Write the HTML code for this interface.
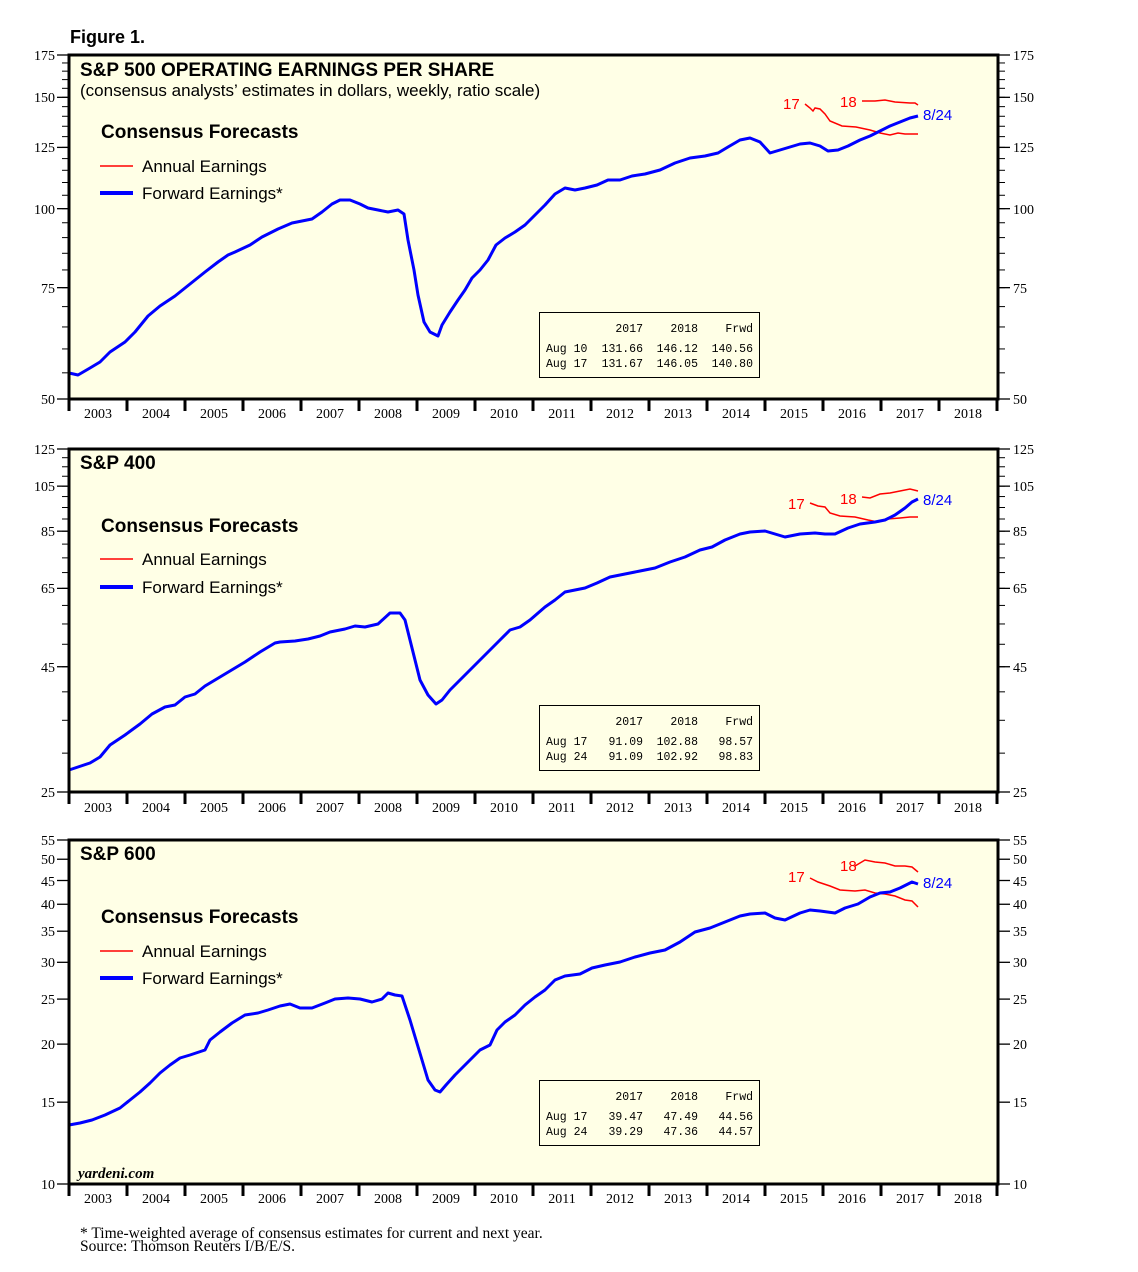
<!DOCTYPE html>
<html><head><meta charset="utf-8"><style>
body{margin:0;background:#fff;}
svg{display:block;}
.ser{font-family:"Liberation Serif",serif;font-size:14px;fill:#000;}
.sans{font-family:"Liberation Sans",sans-serif;fill:#000;}
.mono{font-family:"Liberation Mono",monospace;font-size:11.5px;fill:#000;}
.mono text{text-anchor:end;}
.mono text.l{text-anchor:start;}
</style></head><body>
<svg id="s" width="1138" height="1272" viewBox="0 0 1138 1272" xmlns="http://www.w3.org/2000/svg">
<rect width="1138" height="1272" fill="#fff"/>
<text x="70" y="43" class="sans" font-size="18" font-weight="bold">Figure 1.</text>
<g id="panels"></g>

<text x="80" y="76" class="sans" font-size="19" font-weight="bold">S&amp;P 500 OPERATING EARNINGS PER SHARE</text>
<text x="80" y="96" class="sans" font-size="17">(consensus analysts’ estimates in dollars, weekly, ratio scale)</text>
<text x="101" y="138" class="sans" font-size="19" font-weight="bold">Consensus Forecasts</text>
<text x="142" y="172" class="sans" font-size="17">Annual Earnings</text>
<text x="142" y="199" class="sans" font-size="17">Forward Earnings*</text>
<g class="ser" text-anchor="end"><text x="55" y="60">175</text><text x="55" y="102">150</text><text x="55" y="152">125</text><text x="55" y="214">100</text><text x="55" y="293">75</text><text x="55" y="404">50</text></g>
<g class="ser"><text x="1013" y="60">175</text><text x="1013" y="102">150</text><text x="1013" y="152">125</text><text x="1013" y="214">100</text><text x="1013" y="293">75</text><text x="1013" y="404">50</text></g>
<text x="783" y="109" class="sans" font-size="15" style="fill:#f00">17</text>
<text x="840" y="107" class="sans" font-size="15" style="fill:#f00">18</text>
<text x="923" y="120" class="sans" font-size="15" style="fill:#00f">8/24</text>
<rect x="539.5" y="312.5" width="220" height="65" fill="none" stroke="#000"/>
<g class="mono"><text x="643" y="332">2017</text><text x="698" y="332">2018</text><text x="753" y="332">Frwd</text>
<text class="l" x="546" y="352">Aug 10</text><text x="643" y="352">131.66</text><text x="698" y="352">146.12</text><text x="753" y="352">140.56</text>
<text class="l" x="546" y="367">Aug 17</text><text x="643" y="367">131.67</text><text x="698" y="367">146.05</text><text x="753" y="367">140.80</text></g>

<text x="80" y="469" class="sans" font-size="19" font-weight="bold">S&amp;P 400</text>
<text x="101" y="532" class="sans" font-size="19" font-weight="bold">Consensus Forecasts</text>
<text x="142" y="565" class="sans" font-size="17">Annual Earnings</text>
<text x="142" y="593" class="sans" font-size="17">Forward Earnings*</text>
<g class="ser" text-anchor="end"><text x="55" y="454">125</text><text x="55" y="491">105</text><text x="55" y="536">85</text><text x="55" y="593">65</text><text x="55" y="672">45</text><text x="55" y="797">25</text></g>
<g class="ser"><text x="1013" y="454">125</text><text x="1013" y="491">105</text><text x="1013" y="536">85</text><text x="1013" y="593">65</text><text x="1013" y="672">45</text><text x="1013" y="797">25</text></g>
<text x="788" y="509" class="sans" font-size="15" style="fill:#f00">17</text>
<text x="840" y="504" class="sans" font-size="15" style="fill:#f00">18</text>
<text x="923" y="505" class="sans" font-size="15" style="fill:#00f">8/24</text>
<rect x="539.5" y="705.5" width="220" height="65" fill="none" stroke="#000"/>
<g class="mono"><text x="643" y="725">2017</text><text x="698" y="725">2018</text><text x="753" y="725">Frwd</text>
<text class="l" x="546" y="745">Aug 17</text><text x="643" y="745">91.09</text><text x="698" y="745">102.88</text><text x="753" y="745">98.57</text>
<text class="l" x="546" y="760">Aug 24</text><text x="643" y="760">91.09</text><text x="698" y="760">102.92</text><text x="753" y="760">98.83</text></g>

<text x="80" y="860" class="sans" font-size="19" font-weight="bold">S&amp;P 600</text>
<text x="101" y="923" class="sans" font-size="19" font-weight="bold">Consensus Forecasts</text>
<text x="142" y="957" class="sans" font-size="17">Annual Earnings</text>
<text x="142" y="984" class="sans" font-size="17">Forward Earnings*</text>
<g class="ser" text-anchor="end"><text x="55" y="845">55</text><text x="55" y="864">50</text><text x="55" y="886">45</text><text x="55" y="909">40</text><text x="55" y="936">35</text><text x="55" y="967">30</text><text x="55" y="1004">25</text><text x="55" y="1049">20</text><text x="55" y="1107">15</text><text x="55" y="1189">10</text></g>
<g class="ser"><text x="1013" y="845">55</text><text x="1013" y="864">50</text><text x="1013" y="886">45</text><text x="1013" y="909">40</text><text x="1013" y="936">35</text><text x="1013" y="967">30</text><text x="1013" y="1004">25</text><text x="1013" y="1049">20</text><text x="1013" y="1107">15</text><text x="1013" y="1189">10</text></g>
<text x="788" y="882" class="sans" font-size="15" style="fill:#f00">17</text>
<text x="840" y="871" class="sans" font-size="15" style="fill:#f00">18</text>
<text x="923" y="888" class="sans" font-size="15" style="fill:#00f">8/24</text>
<rect x="539.5" y="1080.5" width="220" height="65" fill="none" stroke="#000"/>
<g class="mono"><text x="643" y="1100">2017</text><text x="698" y="1100">2018</text><text x="753" y="1100">Frwd</text>
<text class="l" x="546" y="1120">Aug 17</text><text x="643" y="1120">39.47</text><text x="698" y="1120">47.49</text><text x="753" y="1120">44.56</text>
<text class="l" x="546" y="1135">Aug 24</text><text x="643" y="1135">39.29</text><text x="698" y="1135">47.36</text><text x="753" y="1135">44.57</text></g>
<text x="78" y="1178" font-family="Liberation Serif,serif" font-style="italic" font-weight="bold" font-size="15">yardeni.com</text>

<text x="80" y="1238" class="ser" style="font-size:15.5px">* Time-weighted average of consensus estimates for current and next year.</text>
<text x="80" y="1251" class="ser" style="font-size:15.5px">Source: Thomson Reuters I/B/E/S.</text>
<g class="ser" text-anchor="middle">
<text x="98" y="418">2003</text><text x="156" y="418">2004</text><text x="214" y="418">2005</text><text x="272" y="418">2006</text><text x="330" y="418">2007</text><text x="388" y="418">2008</text><text x="446" y="418">2009</text><text x="504" y="418">2010</text><text x="562" y="418">2011</text><text x="620" y="418">2012</text><text x="678" y="418">2013</text><text x="736" y="418">2014</text><text x="794" y="418">2015</text><text x="852" y="418">2016</text><text x="910" y="418">2017</text><text x="968" y="418">2018</text>
<text x="98" y="812">2003</text><text x="156" y="812">2004</text><text x="214" y="812">2005</text><text x="272" y="812">2006</text><text x="330" y="812">2007</text><text x="388" y="812">2008</text><text x="446" y="812">2009</text><text x="504" y="812">2010</text><text x="562" y="812">2011</text><text x="620" y="812">2012</text><text x="678" y="812">2013</text><text x="736" y="812">2014</text><text x="794" y="812">2015</text><text x="852" y="812">2016</text><text x="910" y="812">2017</text><text x="968" y="812">2018</text>
<text x="98" y="1203">2003</text><text x="156" y="1203">2004</text><text x="214" y="1203">2005</text><text x="272" y="1203">2006</text><text x="330" y="1203">2007</text><text x="388" y="1203">2008</text><text x="446" y="1203">2009</text><text x="504" y="1203">2010</text><text x="562" y="1203">2011</text><text x="620" y="1203">2012</text><text x="678" y="1203">2013</text><text x="736" y="1203">2014</text><text x="794" y="1203">2015</text><text x="852" y="1203">2016</text><text x="910" y="1203">2017</text><text x="968" y="1203">2018</text>
</g>
</svg>
<script>
var NS="http://www.w3.org/2000/svg",g=document.getElementById("panels");
function el(t,a){var e=document.createElementNS(NS,t);for(var k in a)e.setAttribute(k,a[k]);g.appendChild(e);return e;}
function pts(a){var s="";for(var i=0;i<a.length;i+=2)s+=(i?"L":"M")+a[i]+","+a[i+1];return s;}
var P=[
 {top:55,bot:399,lo:50,hi:175,step:5,maj:[50,75,100,125,150,175],ly:[166,193],
  blue:[69,373,78,375,90,368,100,362,110,352,125,342,135,332,148,316,160,306,175,296,190,284,205,272,218,262,228,255,235,252,250,245,262,237,278,229,292,223,302,221,312,219,322,212,332,204,340,200,350,200,360,204,368,208,378,210,388,212,398,210,404,214,408,240,414,270,418,295,424,322,430,332,438,336,442,325,450,312,458,300,465,290,472,278,480,270,488,260,496,245,505,238,515,232,525,225,535,215,545,205,555,194,565,188,575,190,585,188,597,185,608,180,620,180,632,176,645,174,660,170,675,163,690,158,705,156,718,153,728,147,740,140,750,138,760,142,770,153,780,150,790,147,800,144,810,143,820,146,828,151,838,150,848,146,860,140,870,136,880,131,890,126,900,122,910,118,918,116],
  r17:[805,104,810,108,813,111,815,108,820,109,825,114,830,121,842,126,856,127,870,130,880,133,890,135,898,133,905,134,918,134],
  r18:[862,101,875,101,885,100,890,101,895,102,910,103,915,103,918,105]},
 {top:449,bot:792,lo:25,hi:125,step:5,maj:[25,45,65,85,105,125],ly:[559,587],
  blue:[69,770,78,767,90,763,100,757,110,745,125,735,140,724,152,714,165,707,175,705,185,697,195,694,205,686,215,680,230,671,245,662,260,652,275,643,280,642,295,641,308,639,320,636,330,632,345,629,355,626,365,627,378,624,390,613,400,613,405,620,410,640,415,660,420,680,428,695,436,704,442,700,450,690,460,680,470,670,480,660,490,650,500,640,510,630,520,627,530,620,545,607,555,600,565,592,575,590,585,588,597,583,610,577,625,574,640,571,655,568,670,562,685,557,700,550,712,547,725,540,740,534,750,532,765,531,775,534,785,537,800,534,815,533,825,534,835,534,848,528,860,524,875,522,885,520,895,515,905,508,912,502,918,499],
  r17:[810,503,818,506,825,507,830,513,840,516,855,517,868,520,878,522,888,519,900,518,910,517,918,517],
  r18:[862,497,870,498,880,494,890,493,900,491,910,489,918,491]},
 {top:840,bot:1184,lo:10,hi:55,step:0,maj:[10,15,20,25,30,35,40,45,50,55],ly:[951,978],
  blue:[69,1125,80,1123,92,1120,105,1115,120,1108,130,1100,140,1092,150,1083,160,1073,170,1065,180,1058,190,1055,205,1050,210,1040,220,1032,232,1023,245,1015,258,1013,268,1010,280,1006,290,1004,300,1008,312,1008,325,1003,335,999,348,998,360,999,372,1002,382,999,388,993,395,995,402,996,410,1020,416,1040,422,1060,428,1080,435,1090,440,1092,446,1085,455,1075,465,1065,470,1060,480,1050,490,1045,497,1030,505,1022,515,1015,525,1005,535,997,545,990,555,980,565,976,580,974,592,968,605,965,620,962,635,957,650,953,665,950,680,942,695,932,710,928,725,922,740,916,750,914,765,913,775,918,785,920,800,913,810,910,820,911,835,913,845,908,858,904,870,897,880,893,890,892,900,888,912,882,918,884],
  r17:[810,878,818,882,830,886,840,890,855,891,865,890,875,893,885,894,895,896,905,900,912,901,918,907],
  r18:[855,866,865,860,875,862,885,863,895,866,905,866,912,867,918,872]}
];
P.forEach(function(p){
 el("rect",{x:69,y:p.top,width:929,height:p.bot-p.top,fill:"#ffffe6"});
 var L=Math.log(p.hi/p.lo),H=p.bot-p.top;
 function Y(v){return p.bot-H*Math.log(v/p.lo)/L;}
 if(p.step){for(var v=p.lo;v<=p.hi;v+=p.step){var y=Y(v);el("line",{x1:62,x2:69,y1:y,y2:y,stroke:"#000","stroke-width":1});el("line",{x1:998,x2:1005,y1:y,y2:y,stroke:"#000","stroke-width":1});}}
 p.maj.forEach(function(v){var y=Y(v);el("line",{x1:57,x2:69,y1:y,y2:y,stroke:"#000","stroke-width":1.3});el("line",{x1:998,x2:1010,y1:y,y2:y,stroke:"#000","stroke-width":1.3});});
 for(var i=0;i<=16;i++){var x=69+58*i;el("line",{x1:x,x2:x,y1:p.bot,y2:p.bot+12,stroke:"#000","stroke-width":3});}
 el("path",{d:pts(p.r17),fill:"none",stroke:"#f00","stroke-width":1.5});
 el("path",{d:pts(p.r18),fill:"none",stroke:"#f00","stroke-width":1.5});
 el("path",{d:pts(p.blue),fill:"none",stroke:"#00f","stroke-width":3,"stroke-linejoin":"round"});
 el("line",{x1:100,x2:133,y1:p.ly[0],y2:p.ly[0],stroke:"#f00","stroke-width":1.5});
 el("line",{x1:100,x2:133,y1:p.ly[1],y2:p.ly[1],stroke:"#00f","stroke-width":4});
 el("rect",{x:69,y:p.top,width:929,height:H,fill:"none",stroke:"#000","stroke-width":3});
});
</script>
</body></html>
